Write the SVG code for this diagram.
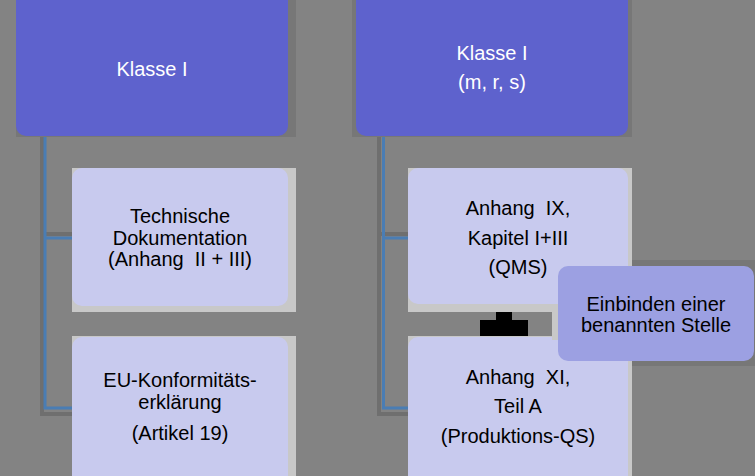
<svg xmlns="http://www.w3.org/2000/svg" width="755" height="476" viewBox="0 0 755 476">
<style>
.t{font-family:"Liberation Sans",Arial,sans-serif;font-size:20px;text-anchor:middle;fill:#000}
.w{fill:#fff}
.top{fill:#5e62cd}
.child{fill:#c8caee}
.dk{fill:#777}
.lt{fill:#c8c8c8}
.sh{fill:none;stroke:#6f6f6f;stroke-width:4}
.ln{fill:none;stroke:#4a7db4;stroke-width:3}
</style>
<rect width="755" height="476" fill="#838383"/>
<g id="connectors">
<path class="sh" d="M42 136V414H72M42 234H72"/>
<path class="ln" d="M45 136V408H72M45 238H72"/>
<path class="sh" d="M379 136V414H408M379 234H408"/>
<path class="ln" d="M383.5 136V408H408M383.5 238H408"/>
<path d="M496 312H512V320H528V336H480V320H496Z" fill="#000"/>
</g>
<g id="n1">
<rect class="dk" x="16" y="0" width="280" height="137"/>
<rect class="top" x="16" y="-10" width="272" height="146" rx="10"/>
<text class="t w" x="152" y="76">Klasse I</text>
</g>
<g id="n2">
<rect class="dk" x="352" y="0" width="280" height="137"/>
<rect class="top" x="356" y="-10" width="272" height="146" rx="10"/>
<text class="t w" x="492" y="60">Klasse I</text>
<text class="t w" x="492" y="89">(m, r, s)</text>
</g>
<g id="n3">
<rect class="lt" x="72" y="168" width="224" height="144"/>
<rect class="child" x="72" y="168" width="216" height="138" rx="10"/>
<text class="t" x="180" y="222.5">Technische</text>
<text class="t" x="180" y="244.5">Dokumentation</text>
<text class="t" x="180" y="266">(Anhang&#160; II + III)</text>
</g>
<g id="n4">
<rect class="lt" x="72" y="336" width="224" height="150"/>
<rect class="child" x="72" y="337" width="216" height="150" rx="10"/>
<text class="t" x="180" y="387">EU-Konformitäts-</text>
<text class="t" x="180" y="409">erklärung</text>
<text class="t" x="180" y="440">(Artikel 19)</text>
</g>
<g id="n5">
<rect class="lt" x="408" y="168" width="224" height="144"/>
<rect class="child" x="408" y="168" width="220" height="136" rx="10"/>
<text class="t" x="518" y="215">Anhang&#160; IX,</text>
<text class="t" x="518" y="245">Kapitel I+III</text>
<text class="t" x="518" y="274">(QMS)</text>
</g>
<g id="n6">
<rect class="lt" x="408" y="336" width="224" height="150"/>
<rect class="child" x="408" y="337" width="220" height="150" rx="10"/>
<text class="t" x="518" y="384">Anhang&#160; XI,</text>
<text class="t" x="518" y="413">Teil A</text>
<text class="t" x="518" y="443">(Produktions-QS)</text>
</g>
<g id="n7">
<rect class="lt" x="552" y="306" width="8" height="34"/>
<rect class="dk" x="632" y="260" width="123" height="106"/>
<rect x="558" y="266" width="196" height="95" rx="10" fill="#9ca0e2"/>
<text class="t" x="656" y="310.5">Einbinden einer</text>
<text class="t" x="656" y="331.5">benannten Stelle</text>
</g>
</svg>
